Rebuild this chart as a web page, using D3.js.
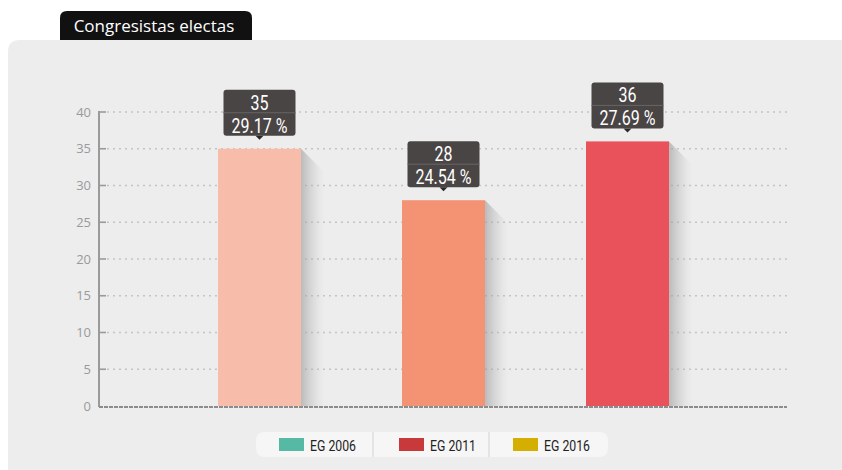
<!DOCTYPE html>
<html><head><meta charset="utf-8">
<script src="https://cdn.jsdelivr.net/npm/d3@7/dist/d3.min.js"></script>
<style>
html,body{margin:0;padding:0;background:#fff;}
svg{display:block;}
.cond{font-family:"Roboto","Noto Sans",sans-serif;}
</style></head>
<body>
<script>
const title = "Congresistas electas";
const categories = ["EG 2006", "EG 2011", "EG 2016"];
const values = [35, 28, 36];
const percents = ["29.17 %", "24.54 %", "27.69 %"];
const barColors = ["#f8bcaa", "#f39374", "#e9525a"];
const legendLabels = ["EG 2006", "EG 2011", "EG 2016"];
const legendColors = ["#55b9a3", "#c8393b", "#d4ae00"];
const yTicks = [0, 5, 10, 15, 20, 25, 30, 35, 40];

const W = 842, H = 470;
const svg = d3.select("body").append("svg").attr("width", W).attr("height", H);
const defs = svg.append("defs");
const grad = defs.append("linearGradient").attr("id","shadow").attr("x1","0").attr("x2","1").attr("y1","0").attr("y2","0");
grad.append("stop").attr("offset","0").attr("stop-color","#999").attr("stop-opacity",0.6);
grad.append("stop").attr("offset","0.5").attr("stop-color","#b0b0b0").attr("stop-opacity",0.3);
grad.append("stop").attr("offset","1").attr("stop-color","#d0d0d0").attr("stop-opacity",0);

// panel
svg.append("path")
  .attr("d", "M8,52 Q8,40 20,40 L842,40 L842,470 L8,470 Z")
  .attr("fill", "#ededed");
// title tab
svg.append("path")
  .attr("d", "M60,40 L60,18 Q60,11 67,11 L245,11 Q252,11 252,18 L252,40 Z")
  .attr("fill", "#111");
svg.append("text").attr("x", 154).attr("y", 32).attr("text-anchor","middle")
  .attr("fill","#fff").attr("font-family","'Open Sans','Noto Sans',sans-serif").attr("font-size",17)
  .text(title);

const x0 = 99, x1 = 787, yBottom = 406, yTop = 112;
const y = d3.scaleLinear().domain([0, 40]).range([yBottom, yTop]);
const x = d3.scaleBand().domain(categories).range([167.5, 719.5]).paddingInner(0.549).paddingOuter(0.2745);

// gridlines
const g = svg.append("g");
g.selectAll("line.grid").data(yTicks.filter(d => d > 0)).enter().append("line")
  .attr("x1", x0 + 8).attr("x2", x1).attr("y1", d => y(d)).attr("y2", d => y(d))
  .attr("stroke", "#c4c4c4").attr("stroke-width", 1.6).attr("stroke-dasharray", "2,4");

// y axis
const yAxis = d3.axisLeft(y).tickValues(yTicks).tickSize(0).tickPadding(8);
const ya = svg.append("g").attr("transform", `translate(${x0},0)`).call(yAxis);
ya.select(".domain").remove();
ya.selectAll("text").attr("fill", "#9a9a9a").attr("font-size", 13)
  .attr("font-family", "'Open Sans','Noto Sans',sans-serif");
svg.append("line").attr("x1", x0).attr("x2", x0).attr("y1", y(40) - 1).attr("y2", yBottom + 1)
  .attr("stroke", "#9a9a9a").attr("stroke-width", 2);
svg.selectAll("line.tk").data(yTicks.filter(d => d > 0)).enter().append("line")
  .attr("x1", x0).attr("x2", x0 + 7).attr("y1", d => y(d)).attr("y2", d => y(d))
  .attr("stroke", "#9a9a9a").attr("stroke-width", 1.6);

// shadows
const bw = x.bandwidth();
svg.selectAll("path.sh").data(values).enter().append("path")
  .attr("d", (d, i) => {
    const r = x(categories[i]) + bw, t = y(d), s = 24;
    return `M${r},${t} L${r + s},${t + s} L${r + s},${yBottom} L${r},${yBottom} Z`;
  })
  .attr("fill", "url(#shadow)");

// bars
svg.selectAll("rect.bar").data(values).enter().append("rect")
  .attr("x", (d, i) => x(categories[i])).attr("width", bw)
  .attr("y", d => y(d)).attr("height", d => yBottom - y(d))
  .attr("fill", (d, i) => barColors[i]);

// x axis
svg.append("line").attr("x1", x0).attr("x2", x1).attr("y1", yBottom + 1).attr("y2", yBottom + 1)
  .attr("stroke", "#8c8c8c").attr("stroke-width", 2).attr("stroke-dasharray", "4,1");

// labels
const lab = svg.selectAll("g.lab").data(values).enter().append("g")
  .attr("transform", (d, i) => `translate(${x(categories[i]) + bw / 2},${y(d)})`);
lab.append("rect").attr("x", -36).attr("y", -59).attr("width", 72).attr("height", 46).attr("rx", 3)
  .attr("fill", "#4a4545");
lab.append("path").attr("d", "M-4,-13 L4,-13 L0,-9 Z").attr("fill", "#2a2727");
lab.append("line").attr("x1", -36).attr("x2", 36).attr("y1", -36).attr("y2", -36)
  .attr("stroke", "#6a6565").attr("stroke-width", 1);
lab.append("g").attr("transform", "translate(0,-39) scale(0.8,1)")
  .append("text").attr("class","cond").attr("text-anchor","middle")
  .attr("fill","#fff").attr("font-size", 20).text(d => d);
lab.append("g").attr("transform", "translate(0,-16) scale(0.8,1)")
  .append("text").attr("class","cond").attr("text-anchor","middle")
  .attr("fill","#fff").attr("font-size", 20).text((d, i) => percents[i]);

// legend
svg.append("rect").attr("x", 256).attr("y", 432).attr("width", 352).attr("height", 25).attr("rx", 8)
  .attr("fill", "#f6f6f6");
[373, 489].forEach(sx => svg.append("line").attr("x1", sx).attr("x2", sx).attr("y1", 432).attr("y2", 457)
  .attr("stroke", "#dedede").attr("stroke-width", 1.5));
const legX = [279, 399, 513];
const lg = svg.selectAll("g.leg").data(legendLabels).enter().append("g")
  .attr("transform", (d, i) => `translate(${legX[i]},438)`);
lg.append("rect").attr("width", 25).attr("height", 13).attr("fill", (d, i) => legendColors[i]);
lg.append("g").attr("transform", "translate(31,12.5) scale(0.82,1)")
  .append("text").attr("class","cond").attr("font-size", 15)
  .attr("fill", "#222").text(d => d);
</script>
</body></html>
